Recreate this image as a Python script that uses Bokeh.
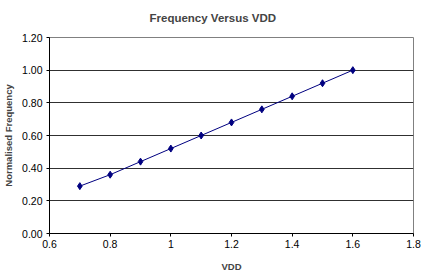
from bokeh.plotting import figure
from bokeh.models import Range1d, FixedTicker, CustomJSTickFormatter, PrintfTickFormatter
from bokeh.embed import file_html
from bokeh.resources import INLINE

vdd = [0.7, 0.8, 0.9, 1.0, 1.1, 1.2, 1.3, 1.4, 1.5, 1.6]
norm_freq = [0.29, 0.36, 0.44, 0.52, 0.60, 0.68, 0.76, 0.84, 0.92, 1.00]
x_ticks = [0.6, 0.8, 1.0, 1.2, 1.4, 1.6, 1.8]
y_ticks = [0.0, 0.2, 0.4, 0.6, 0.8, 1.0, 1.2]
title_text = "Frequency Versus VDD"

FONT = "Liberation Sans"

p = figure(width=426, height=274, output_backend="svg", toolbar_location=None,
           x_range=Range1d(0.6, 1.8), y_range=Range1d(0, 1.2),
           min_border_left=45, min_border_right=13, min_border_top=0, min_border_bottom=37)

p.line(vdd, norm_freq, line_color="#000080", line_width=1)
p.scatter(vdd, norm_freq, marker="diamond", size=7, fill_color="#000080", line_color="#000080")

p.title.text = title_text
p.title.text_font = FONT
p.title.text_font_size = "11.5px"
p.title.text_font_style = "bold"
p.title.align = "left"
p.title.offset = 100
p.title.vertical_align = "top"
p.title.standoff = 23

p.xaxis.ticker = FixedTicker(ticks=x_ticks)
p.yaxis.ticker = FixedTicker(ticks=y_ticks)
p.xaxis.formatter = CustomJSTickFormatter(code="return Number(tick.toFixed(1)).toString();")
p.yaxis.formatter = PrintfTickFormatter(format="%.2f")

p.xaxis.axis_label = "VDD"
p.yaxis.axis_label = "Normalised Frequency"
for ax in (p.xaxis, p.yaxis):
    ax.axis_label_text_font = FONT
    ax.axis_label_text_font_size = "9.5px"
    ax.axis_label_text_font_style = "bold"
    ax.major_label_text_font = FONT
    ax.major_label_text_font_size = "10.5px"
    ax.major_label_text_color = "black"
    ax.axis_line_color = "black"
    ax.major_tick_line_color = "black"
    ax.major_tick_out = 3
    ax.major_tick_in = 0
    ax.minor_tick_line_color = None
p.xaxis.major_label_standoff = 3
p.yaxis.major_label_standoff = 4
p.xaxis.axis_label_standoff = 10
p.yaxis.axis_label_standoff = 5

p.xgrid.grid_line_color = None
p.ygrid.grid_line_color = "#303030"
p.ygrid.grid_line_width = 1
p.outline_line_color = "#808080"
p.background_fill_color = "white"
p.border_fill_color = "white"

open("out.html", "w").write(file_html(p, INLINE))
